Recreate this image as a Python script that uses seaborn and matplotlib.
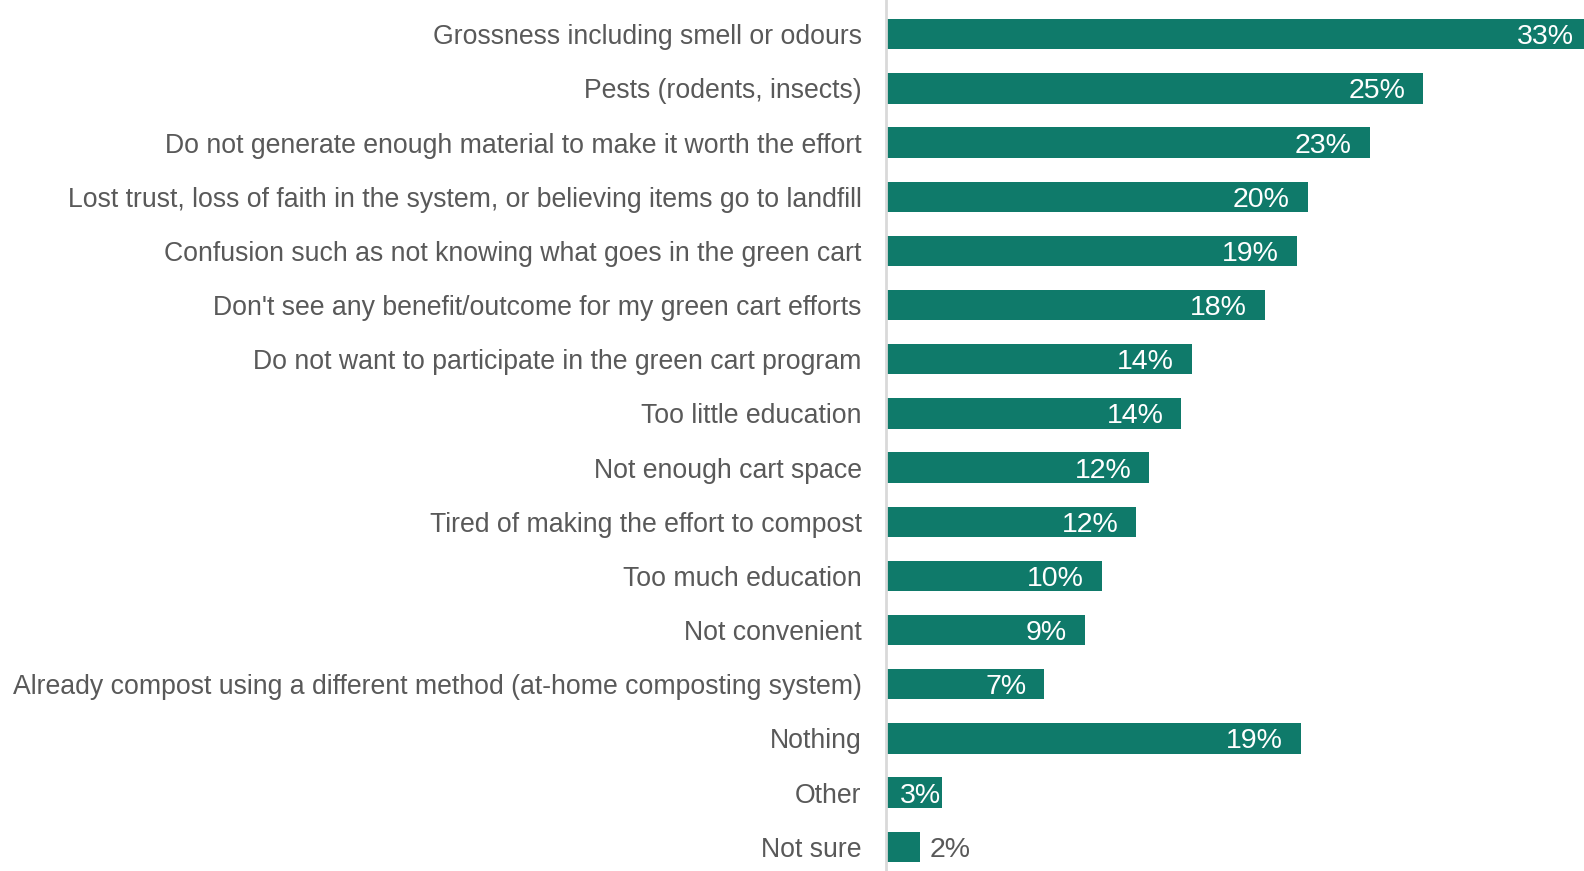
import matplotlib
matplotlib.use("Agg")
import matplotlib.pyplot as plt
import seaborn as sns
import pandas as pd

categories = [
    "Grossness including smell or odours",
    "Pests (rodents, insects)",
    "Do not generate enough material to make it worth the effort",
    "Lost trust, loss of faith in the system, or believing items go to landfill",
    "Confusion such as not knowing what goes in the green cart",
    "Don't see any benefit/outcome for my green cart efforts",
    "Do not want to participate in the green cart program",
    "Too little education",
    "Not enough cart space",
    "Tired of making the effort to compost",
    "Too much education",
    "Not convenient",
    "Already compost using a different method (at-home composting system)",
    "Nothing",
    "Other",
    "Not sure",
]
values = [33.0, 25.1, 22.6, 19.7, 19.2, 17.7, 14.3, 13.8, 12.3, 11.7,
          10.1, 9.3, 7.4, 19.4, 2.6, 1.6]

BAR = "#0F7A6A"
TEXT = "#595959"

sns.set_theme(style="white")
plt.rcParams["font.family"] = ["Liberation Sans", "DejaVu Sans"]

df = pd.DataFrame({"reason": categories, "share": values})

W, H = 1584, 871
fig = plt.figure(figsize=(W / 100, H / 100), dpi=100)
left_px = 886
ax = fig.add_axes([left_px / W, 0, (W - left_px) / W, 1])

sns.barplot(data=df, y="reason", x="share", orient="h", color=BAR,
            width=0.56, saturation=1, ax=ax, edgecolor="none")

px_per_unit = 21.4
xmax = (W - left_px) / px_per_unit
ax.set_xlim(0, xmax)
step = 54.17
top_center = 34.2
ax.set_ylim(15 + (H - (top_center + 15 * step)) / step, -top_center / step)

for s in ["top", "right", "bottom"]:
    ax.spines[s].set_visible(False)
ax.spines["left"].set_color("#D9D9D9")
ax.spines["left"].set_linewidth(2)
ax.set_xticks([])
ax.set_xlabel("")
ax.set_ylabel("")
ax.tick_params(axis="y", length=0, pad=17.5, labelsize=19.2, labelcolor=TEXT)

for i, v in enumerate(values):
    label = f"{round(v)}%"
    if v < 2:
        ax.text(v + 0.45, i, label, ha="left", va="center_baseline",
                fontsize=20.5, color=TEXT)
    elif v < 4:
        ax.text(v - 0.05, i, label, ha="right", va="center_baseline",
                fontsize=20.5, color="white")
    else:
        x = min(v - 0.84, xmax - 0.2)
        ax.text(x, i, label, ha="right", va="center_baseline",
                fontsize=20.5, color="white")

fig.savefig("out.png", dpi=100)
